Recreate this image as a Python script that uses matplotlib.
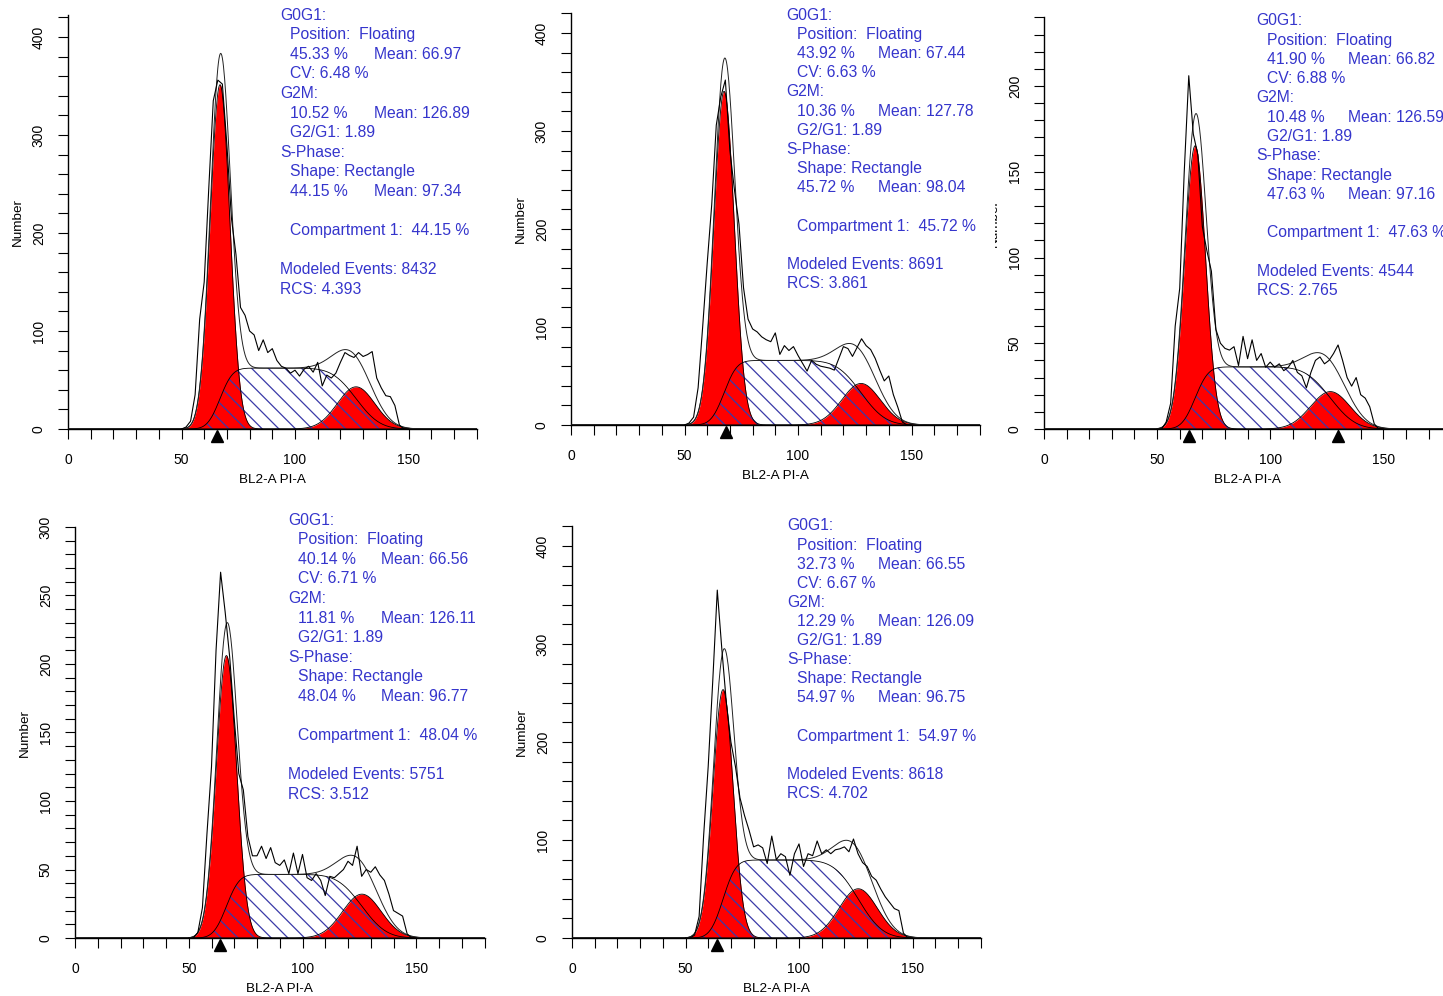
import math
import numpy as np
import matplotlib
matplotlib.use('Agg')
import matplotlib.pyplot as plt
from matplotlib.ticker import MultipleLocator
from matplotlib.transforms import Bbox, TransformedBbox, offset_copy

plt.rcParams['font.family'] = ['Liberation Sans', 'DejaVu Sans']
plt.rcParams['hatch.linewidth'] = 0.9

W, H = 1443, 996

# channels of the measured histogram (read every 2 channels)
chan = list(range(50, 152, 2))

counts_1 = [0, 2, 8, 35, 112, 150, 245, 335, 356, 352, 290, 215, 178, 124, 116, 100, 96, 80, 91, 78,
            82, 70, 64, 62, 57, 60, 54, 61, 64, 58, 68, 44, 55, 52, 57, 68, 78, 75, 73, 78,
            74, 76, 79, 52, 42, 34, 33, 24, 4, 0, 0]
counts_2 = [0, 2, 8, 38, 100, 165, 225, 306, 335, 352, 280, 240, 205, 140, 108, 98, 95, 90, 87, 85,
            94, 72, 81, 76, 80, 71, 63, 55, 66, 62, 60, 59, 58, 56, 68, 80, 78, 70, 79, 88,
            81, 77, 68, 56, 45, 50, 31, 18, 3, 0, 0]
counts_3 = [0, 0, 4, 15, 60, 82, 150, 206, 172, 160, 118, 104, 92, 58, 50, 47, 46, 48, 37, 54,
            41, 52, 40, 44, 36, 39, 36, 38, 34, 36, 40, 33, 31, 24, 33, 40, 42, 38, 40, 44,
            49, 40, 30, 25, 30, 20, 18, 13, 3, 0, 0]
counts_4 = [0, 0, 4, 22, 76, 125, 210, 267, 238, 205, 160, 120, 108, 74, 60, 60, 67, 58, 66, 55,
            53, 57, 47, 62, 47, 61, 44, 42, 47, 42, 31, 45, 44, 47, 50, 56, 53, 67, 45, 50,
            48, 52, 46, 42, 32, 20, 18, 16, 3, 0, 0]
counts_5 = [0, 0, 3, 22, 105, 175, 262, 355, 295, 240, 200, 175, 143, 125, 110, 93, 95, 92, 76, 104,
            80, 86, 83, 64, 86, 96, 73, 86, 84, 99, 86, 90, 86, 90, 91, 93, 88, 101, 86, 77,
            73, 63, 59, 50, 42, 36, 30, 28, 5, 0, 0]
counts = [counts_1, counts_2, counts_3, counts_4, counts_5]

# ModFit results printed on each panel
events = [8432, 8691, 4544, 5751, 8618]
g1_pct = [45.33, 43.92, 41.90, 40.14, 32.73]
g1_mean = [66.97, 67.44, 66.82, 66.56, 66.55]
g1_cv = [6.48, 6.63, 6.88, 6.71, 6.67]
g2_pct = [10.52, 10.36, 10.48, 11.81, 12.29]
g2_mean = [126.89, 127.78, 126.59, 126.11, 126.09]
s_pct = [44.15, 45.72, 47.63, 48.04, 54.97]
s_mean = [97.34, 98.04, 97.16, 96.77, 96.75]
rcs = ['4.393', '3.861', '2.765', '3.512', '4.702']
peak_marks = [[65.5], [68.1], [64.2, 130.0], [63.7], [64.0]]
y_max = [422, 420, 240, 300, 420]
y_major = [100, 100, 50, 50, 100]

# panel placement in pixels: x of channel 0, y of count 0, px per channel, px per count
boxes = [(68, 429, 2.27, 0.98), (571, 425, 2.27, 0.98), (1044, 429, 2.262, 1.715),
         (75, 938, 2.275, 1.37), (572, 938, 2.27, 0.98)]
# text block: left x, first line y, line step, x of "Mean:" column
text_pos = [(280, 15, 19.6, 374), (786.7, 15, 19.2, 877.7), (1256.7, 20.7, 19.3, 1348.3),
            (288.3, 520, 19.6, 381), (787.3, 526, 19.1, 877.7)]

BLUE = '#3535cc'
fig = plt.figure(figsize=(W / 100, H / 100), dpi=100)

norm_cdf = np.vectorize(lambda z: 0.5 * (1 + math.erf(z / math.sqrt(2))))


def ftext(x, y, s, **kw):
    return fig.text(x / W, 1 - y / H, s, **kw)


xs = np.arange(0, 180.01, 0.25)

for i in range(5):
    x0, y0, sx, sy = boxes[i]
    w = 180 * sx
    h = y_max[i] * sy
    ax = fig.add_axes([x0 / W, 1 - y0 / H, w / W, h / H])

    # fitted model from the printed parameters
    n = events[i]
    sd1 = g1_mean[i] * g1_cv[i] / 100
    sd2 = g2_mean[i] * g1_cv[i] / 100
    g1 = n * g1_pct[i] / 100 / (sd1 * math.sqrt(2 * math.pi)) * np.exp(-(xs - g1_mean[i]) ** 2 / (2 * sd1 ** 2))
    g2 = n * g2_pct[i] / 100 / (sd2 * math.sqrt(2 * math.pi)) * np.exp(-(xs - g2_mean[i]) ** 2 / (2 * sd2 ** 2))
    s_level = n * s_pct[i] / 100 / (g2_mean[i] - g1_mean[i])
    s = s_level * (norm_cdf((xs - g1_mean[i]) / sd1) - norm_cdf((xs - g2_mean[i]) / sd2))
    total = g1 + g2 + s

    ax.fill_between(xs, 0, g1, color='#ff0000', lw=0, zorder=1)
    ax.fill_between(xs, 0, g2, color='#ff0000', lw=0, zorder=1)
    ax.fill_between(xs, 0, s, facecolor='none', edgecolor='#3a3aa8', lw=0, hatch='\\\\', zorder=2)
    ax.plot(xs, g1, color='black', lw=0.6, zorder=3)
    ax.plot(xs, g2, color='black', lw=0.6, zorder=3)
    ax.plot(xs, s, color='black', lw=0.6, zorder=3)
    ax.plot(xs, total, color='#222222', lw=0.7, zorder=4)
    ax.plot(chan, counts[i], color='black', lw=0.8, zorder=5)

    ax.set_xlim(0, 180)
    ax.set_ylim(0, y_max[i])
    for side in ['top', 'right']:
        ax.spines[side].set_visible(False)
    for side in ['left', 'bottom']:
        ax.spines[side].set_linewidth(1.0)
    ax.xaxis.set_major_locator(MultipleLocator(50))
    ax.xaxis.set_minor_locator(MultipleLocator(10))
    ax.yaxis.set_major_locator(MultipleLocator(y_major[i]))
    ax.yaxis.set_minor_locator(MultipleLocator(y_major[i] / 5))
    ax.tick_params(which='both', direction='out', length=7, width=0.8)
    ax.tick_params(axis='x', labelsize=10, pad=10)
    ax.tick_params(axis='y', labelsize=10, pad=9, labelrotation=90)
    for lab in ax.get_yticklabels():
        lab.set_va('center')

    tri = offset_copy(ax.transData, fig=fig, y=-7, units='dots')
    for p in peak_marks[i]:
        ax.plot([p], [0], marker='^', ms=8.5, color='black', transform=tri, clip_on=False, zorder=6)

    # axis titles
    ftext(x0 + w / 2, y0 + 51, 'BL2-A PI-A', ha='center', va='center', fontsize=9.7)
    t = ftext(x0 - 50, y0 - h / 2, 'Number', ha='center', va='center', rotation=90, fontsize=9.7)
    if i == 2:
        t.set_clip_box(TransformedBbox(Bbox.from_extents(995 / W, 0, 1, 1), fig.transFigure))
        t.set_clip_on(True)

    # result text
    tx, ty, step, mx = text_pos[i]
    ind = tx + 10
    kw = dict(color=BLUE, fontsize=11.3, va='center')
    ftext(tx, ty, 'G0G1:', **kw)
    ftext(ind, ty + step, 'Position:  Floating', **kw)
    ftext(ind, ty + 2 * step, f'{g1_pct[i]:.2f} %', **kw)
    ftext(mx, ty + 2 * step, f'Mean: {g1_mean[i]:.2f}', **kw)
    ftext(ind, ty + 3 * step, f'CV: {g1_cv[i]:.2f} %', **kw)
    ftext(tx, ty + 4 * step, 'G2M:', **kw)
    ftext(ind, ty + 5 * step, f'{g2_pct[i]:.2f} %', **kw)
    ftext(mx, ty + 5 * step, f'Mean: {g2_mean[i]:.2f}', **kw)
    ftext(ind, ty + 6 * step, 'G2/G1: 1.89', **kw)
    ftext(tx, ty + 7 * step, 'S-Phase:', **kw)
    ftext(ind, ty + 8 * step, 'Shape: Rectangle', **kw)
    ftext(ind, ty + 9 * step, f'{s_pct[i]:.2f} %', **kw)
    ftext(mx, ty + 9 * step, f'Mean: {s_mean[i]:.2f}', **kw)
    ftext(ind, ty + 11 * step, f'Compartment 1:  {s_pct[i]:.2f} %', **kw)
    ftext(tx, ty + 13 * step, f'Modeled Events: {events[i]}', **kw)
    ftext(tx, ty + 14 * step, f'RCS: {rcs[i]}', **kw)

fig.savefig('out.png', dpi=100)
